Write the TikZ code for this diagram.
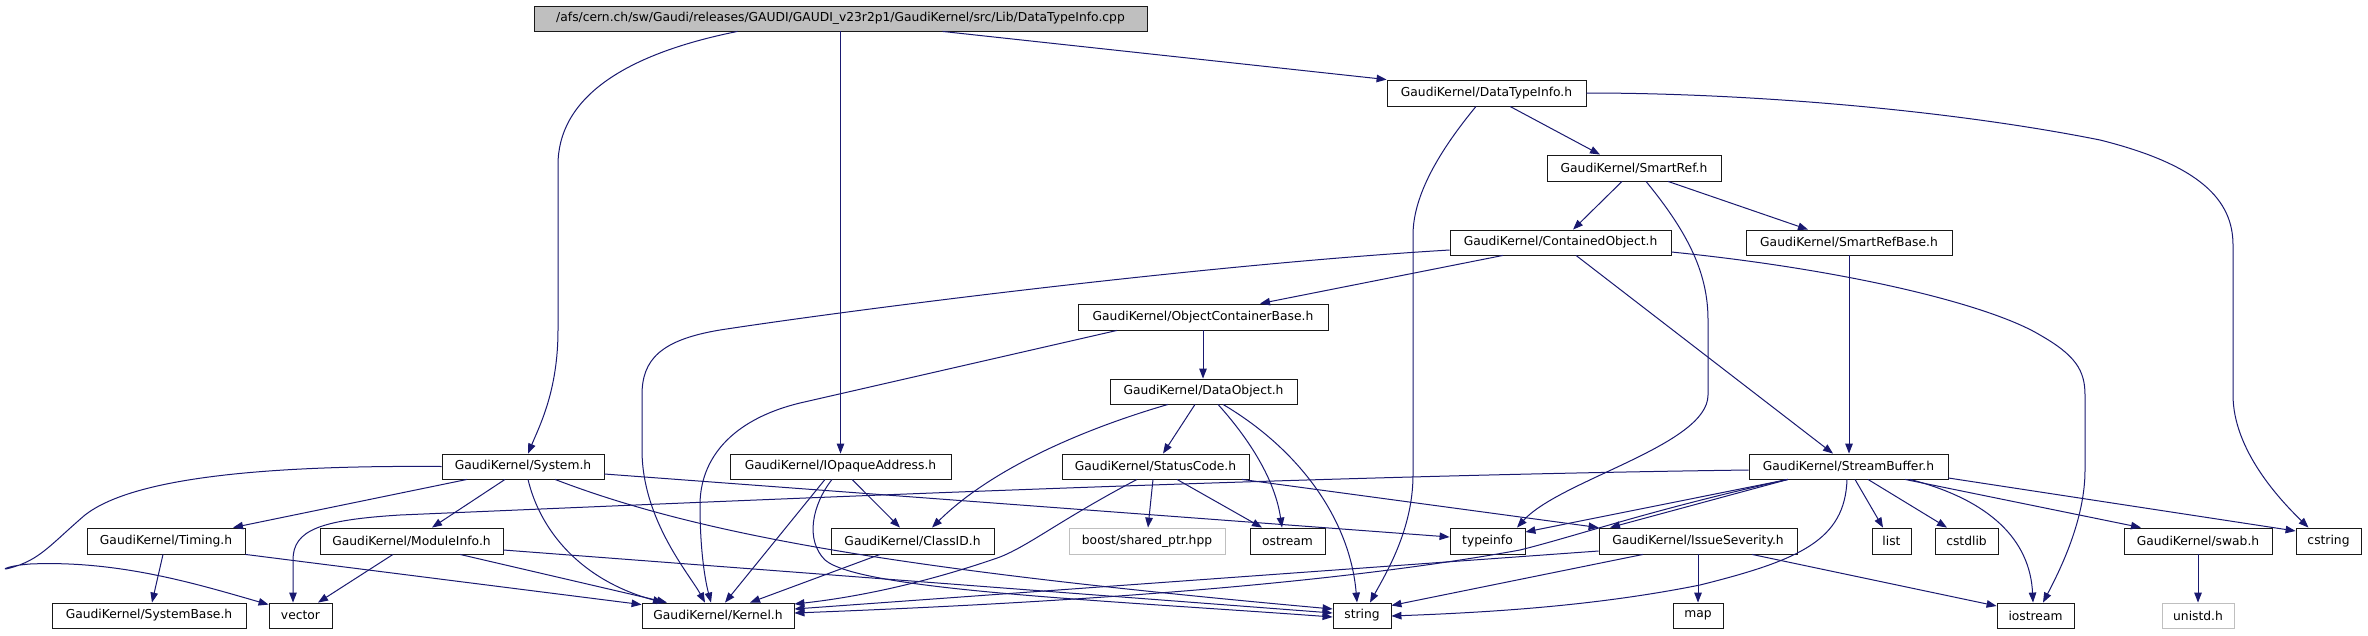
\documentclass[tikz,border=0pt]{standalone}
\usepackage{fontspec}
\setmainfont{DejaVu Sans}
\usetikzlibrary{arrows.meta}
\definecolor{edgec}{HTML}{191970}
\definecolor{grayfill}{HTML}{BFBFBF}
\tikzset{
 box/.style={draw=black!90, line width=0.85pt, inner sep=0pt, font=\fontsize{12.3}{14}\selectfont, anchor=center},
 extbox/.style={box, draw=grayfill},
 rootbox/.style={box, fill=grayfill},
 conn/.style={draw=edgec, line width=1pt, -{Triangle[length=10pt,width=7.5pt]}},
}
\begin{document}
\begin{tikzpicture}[x=1pt,y=-1pt]
\useasboundingbox[fill=white] (0,0) rectangle (2368,635);
% nodes
\node[rootbox, minimum width=613pt, minimum height=25pt] (root) at (840.5,18.5) {/afs/cern.ch/sw/Gaudi/releases/GAUDI/GAUDI\_v23r2p1/GaudiKernel/src/Lib/DataTypeInfo.cpp};
\node[box, minimum width=199pt, minimum height=26pt] (dti) at (1486.5,93) {GaudiKernel/DataTypeInfo.h};
\node[box, minimum width=174pt, minimum height=26pt] (sref) at (1634,168) {GaudiKernel/SmartRef.h};
\node[box, minimum width=221pt, minimum height=25pt] (cobj) at (1560.5,242.5) {GaudiKernel/ContainedObject.h};
\node[box, minimum width=206pt, minimum height=25pt] (srb) at (1849,242.5) {GaudiKernel/SmartRefBase.h};
\node[box, minimum width=250pt, minimum height=26pt] (ocb) at (1203,317) {GaudiKernel/ObjectContainerBase.h};
\node[box, minimum width=187pt, minimum height=25pt] (dobj) at (1203.5,391.5) {GaudiKernel/DataObject.h};
\node[box, minimum width=187pt, minimum height=25pt] (sc) at (1155.5,466.5) {GaudiKernel/StatusCode.h};
\node[box, minimum width=162pt, minimum height=25pt] (sys) at (523,466.5) {GaudiKernel/System.h};
\node[box, minimum width=221pt, minimum height=25pt] (ioa) at (840.5,466.5) {GaudiKernel/IOpaqueAddress.h};
\node[box, minimum width=199pt, minimum height=25pt] (sbuf) at (1848.5,466.5) {GaudiKernel/StreamBuffer.h};
\node[box, minimum width=158pt, minimum height=26pt] (tim) at (166,541) {GaudiKernel/Timing.h};
\node[box, minimum width=183pt, minimum height=26pt] (mod) at (411.5,541) {GaudiKernel/ModuleInfo.h};
\node[box, minimum width=163pt, minimum height=26pt] (cid) at (912.5,541) {GaudiKernel/ClassID.h};
\node[extbox, minimum width=156pt, minimum height=26pt] (boost) at (1147,541) {boost/shared\_ptr.hpp};
\node[box, minimum width=75pt, minimum height=26pt] (ost) at (1287.5,541) {ostream};
\node[box, minimum width=75pt, minimum height=26pt] (tinfo) at (1487.5,541) {typeinfo};
\node[box, minimum width=198pt, minimum height=26pt] (iss) at (1698,541) {GaudiKernel/IssueSeverity.h};
\node[box, minimum width=39pt, minimum height=26pt] (list) at (1891.5,541) {list};
\node[box, minimum width=63pt, minimum height=26pt] (cstd) at (1966.5,541) {cstdlib};
\node[box, minimum width=148pt, minimum height=26pt] (swab) at (2198,541) {GaudiKernel/swab.h};
\node[box, minimum width=65pt, minimum height=26pt] (cstr) at (2328.5,541) {cstring};
\node[box, minimum width=194pt, minimum height=25pt] (sysb) at (149,615.5) {GaudiKernel/SystemBase.h};
\node[box, minimum width=63pt, minimum height=25pt] (vec) at (300.5,615.5) {vector};
\node[box, minimum width=152pt, minimum height=25pt] (kern) at (718,615.5) {GaudiKernel/Kernel.h};
\node[box, minimum width=58pt, minimum height=25pt] (str) at (1362,615.5) {string};
\node[box, minimum width=50pt, minimum height=25pt] (map) at (1698,615.5) {map};
\node[box, minimum width=77pt, minimum height=25pt] (ios) at (2035.5,615.5) {iostream};
\node[extbox, minimum width=72pt, minimum height=25pt] (uni) at (2198,615.5) {unistd.h};
% edges from root
\draw[conn] ([xshift=-103pt]root.south) .. controls (620,55) and (558,100) .. (558,165) -- (558,330) .. controls (558,390) and (540,425) .. ([xshift=5pt]sys.north);
\draw[conn] (root.south) -- (ioa.north);
\draw[conn] ([xshift=102pt]root.south) -- (dti.north west);
% DataTypeInfo.h
\draw[conn] ([xshift=23.5pt]dti.south) -- ([xshift=-34pt]sref.north);
\draw[conn] ([xshift=-10.5pt]dti.south) .. controls (1440,150) and (1413,195) .. (1413,235) -- (1413,475) .. controls (1413,530) and (1385,575) .. ([xshift=8pt]str.north);
\draw[conn] (dti.east) .. controls (1750,93) and (1950,110) .. (2100,140) .. controls (2200,165) and (2233,200) .. (2233,245) -- (2233,395) .. controls (2233,450) and (2280,500) .. ([xshift=-20pt]cstr.north);
% SmartRef.h
\draw[conn] ([xshift=-12pt]sref.south) -- ([xshift=12.5pt]cobj.north);
\draw[conn] ([xshift=34pt]sref.south) -- ([xshift=-41pt]srb.north);
\draw[conn] ([xshift=12pt]sref.south) .. controls (1690,235) and (1708,275) .. (1708,320) -- (1708,395) .. controls (1708,445) and (1560,480) .. ([xshift=29.5pt]tinfo.north);
% SmartRefBase.h
\draw[conn] (srb.south) -- (srb.south |- sbuf.north);
% ContainedObject.h
\draw[conn] ([xshift=15.5pt]cobj.south) -- ([xshift=-15.5pt]sbuf.north);
\draw[conn] ([xshift=-57.5pt]cobj.south) -- ([xshift=57pt]ocb.north);
\draw[conn] ([yshift=-7.5pt]cobj.west) .. controls (1200,265) and (850,310) .. (720,330) .. controls (660,340) and (642,360) .. (642,395) -- (642,450) .. controls (642,520) and (690,575) .. ([xshift=-13pt]kern.north);
\draw[conn] ([yshift=-9.5pt]cobj.east) .. controls (1850,270) and (1990,305) .. (2040,335) .. controls (2075,355) and (2085,370) .. (2085,395) -- (2085,470) .. controls (2085,520) and (2060,570) .. ([xshift=7.5pt]ios.north);
% ObjectContainerBase.h
\draw[conn] (ocb.south) -- (ocb.south |- dobj.north);
\draw[conn] ([xshift=-86pt]ocb.south) -- (800,403) .. controls (730,420) and (700,460) .. (700,505) .. controls (700,550) and (705,580) .. ([xshift=-7pt]kern.north);
% DataObject.h
\draw[conn] ([xshift=-8.5pt]dobj.south) -- ([xshift=7.5pt]sc.north);
\draw[conn] ([xshift=-35.5pt]dobj.south) .. controls (1080,430) and (990,470) .. ([xshift=19.5pt]cid.north);
\draw[conn] ([xshift=14.5pt]dobj.south) .. controls (1250,440) and (1275,480) .. ([xshift=-5.5pt]ost.north);
\draw[conn] ([xshift=19.5pt]dobj.south) .. controls (1300,450) and (1350,520) .. ([xshift=-5pt]str.north);
% StatusCode.h
\draw[conn] ([xshift=-2.5pt]sc.south) -- ([xshift=1pt]boost.north);
\draw[conn] ([xshift=21.5pt]sc.south) -- ([xshift=-25.5pt]ost.north);
\draw[conn] ([xshift=-18.5pt]sc.south) .. controls (1060,520) and (1030,545) .. (1000,557) .. controls (920,585) and (850,598) .. ([yshift=11.5pt]kern.east);
\draw[conn] ([xshift=86.5pt]sc.south) -- (iss.north west);
% System.h
\draw[conn] ([xshift=-56pt]sys.south) -- ([xshift=67pt]tim.north);
\draw[conn] ([xshift=-18pt]sys.south) -- ([xshift=20.5pt]mod.north);
\draw[conn] ([xshift=5pt]sys.south) .. controls (540,530) and (580,580) .. ([xshift=-55pt]kern.north);
\draw[conn] ([xshift=32pt]sys.south) .. controls (700,535) and (900,570) .. ([yshift=6.5pt]str.west);
\draw[conn] ([yshift=-7.5pt]sys.east) -- ([yshift=4pt]tinfo.west);
\draw[conn] (sys.west) .. controls (250,465) and (130,480) .. (85,515) .. controls (50,545) and (40,560) .. (10,568) .. controls (0,571) and (5,566) .. (30,564) .. controls (120,560) and (200,585) .. ([yshift=-2pt]vec.north west);
% Timing.h
\draw[conn] ([xshift=-3pt]tim.south) -- ([xshift=3pt]sysb.north);
\draw[conn] (tim.south east) -- ([yshift=-2pt]kern.north west);
% ModuleInfo.h
\draw[conn] ([xshift=-18.5pt]mod.south) -- ([xshift=17.5pt]vec.north);
\draw[conn] ([xshift=48.5pt]mod.south) -- ([xshift=-51pt]kern.north);
\draw[conn] ([yshift=-9pt]mod.east) -- ([yshift=2.5pt]str.west);
% IOpaqueAddress.h
\draw[conn] ([xshift=11.5pt]ioa.south) -- ([xshift=-12.5pt]cid.north);
\draw[conn] ([xshift=-15.5pt]ioa.south) -- ([xshift=7pt]kern.north);
\draw[conn] ([xshift=-8.5pt]ioa.south) .. controls (812,505) and (805,540) .. (825,560) .. controls (860,590) and (1100,600) .. ([yshift=-1.5pt]str.west);
% ClassID.h
\draw[conn] ([xshift=-32.5pt]cid.south) -- ([xshift=32pt]kern.north);
% IssueSeverity.h
\draw[conn] ([yshift=-10pt]iss.west) -- ([yshift=6.5pt]kern.east);
\draw[conn] ([xshift=-55pt]iss.south) -- ([yshift=10pt]str.east);
\draw[conn] (iss.south) -- (map.north);
\draw[conn] ([xshift=54pt]iss.south) -- ([yshift=9.5pt]ios.west);
% StreamBuffer.h
\draw[conn] ([yshift=-3.5pt]sbuf.west) .. controls (1300,476) and (800,498) .. (400,515) .. controls (320,520) and (293,530) .. (293,560) -- ([xshift=-7.5pt]vec.north);
\draw[conn] ([xshift=-60.5pt]sbuf.south) -- ([xshift=-88pt]iss.north);
\draw[conn] ([xshift=-60.5pt]sbuf.south) .. controls (1650,510) and (1580,535) .. (1520,550) .. controls (1300,590) and (1000,605) .. ([yshift=2.5pt]kern.east);
\draw[conn] ([xshift=-60.5pt]sbuf.south) -- ([yshift=9pt]tinfo.east);
\draw[conn] ([xshift=-1.5pt]sbuf.south) .. controls (1845,540) and (1800,560) .. (1700,585) .. controls (1600,605) and (1500,612) .. ([yshift=-0.5pt]str.east);
\draw[conn] ([xshift=6.5pt]sbuf.south) -- ([xshift=-8.5pt]list.north);
\draw[conn] ([xshift=19.5pt]sbuf.south) -- ([xshift=-19.5pt]cstd.north);
\draw[conn] ([xshift=61.5pt]sbuf.south) .. controls (1990,500) and (2030,540) .. ([xshift=-2.5pt]ios.north);
\draw[conn] ([xshift=56.5pt]sbuf.south) -- ([xshift=-57pt]swab.north);
\draw[conn] ([yshift=-11.5pt]sbuf.east) -- ([yshift=10pt]cstr.west);
% swab.h
\draw[conn] (swab.south) -- (uni.north);
\end{tikzpicture}
\end{document}
